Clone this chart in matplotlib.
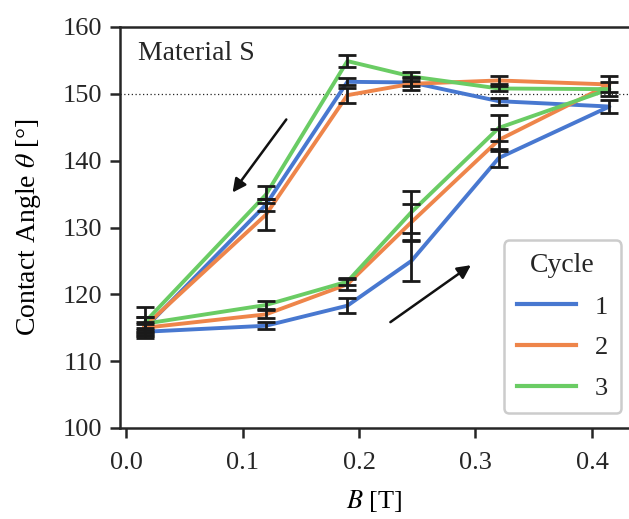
import matplotlib
matplotlib.use("Agg")
import matplotlib.pyplot as plt

# field sweep: up to 0.415 T and back down again
B = [0.016, 0.12, 0.19, 0.245, 0.32, 0.415, 0.32, 0.245, 0.19, 0.12, 0.016]

angle_c1 = [114.4, 115.3, 118.3, 125.0, 140.4, 148.1, 148.9, 151.7, 151.8, 133.4, 114.9]
angle_c2 = [115.0, 117.0, 121.5, 130.8, 143.1, 151.4, 152.0, 151.5, 149.8, 131.9, 115.2]
angle_c3 = [115.6, 118.4, 121.9, 132.3, 144.9, 150.7, 150.8, 152.6, 154.9, 134.9, 115.8]

err_c1 = [0.5, 0.5, 1.1, 3.0, 1.3, 1.0, 0.5, 0.6, 0.5, 0.9, 0.6]
err_c2 = [0.8, 0.6, 0.8, 2.7, 1.7, 1.2, 0.6, 1.0, 1.1, 2.3, 1.4]
err_c3 = [1.0, 0.6, 0.5, 3.1, 2.0, 1.0, 0.4, 0.7, 0.9, 1.3, 2.3]

cycles = ["1", "2", "3"]
colors = ["#4878d0", "#ee854a", "#6acc64"]

plt.rcParams["font.family"] = ["Liberation Serif", "DejaVu Serif"]
plt.rcParams["mathtext.fontset"] = "stix"
plt.rcParams["font.size"] = 19
plt.rcParams["axes.edgecolor"] = "#262626"
plt.rcParams["text.color"] = "#262626"
plt.rcParams["xtick.color"] = "#262626"
plt.rcParams["ytick.color"] = "#262626"

fig = plt.figure(figsize=(6.29, 5.19), dpi=100)
ax = fig.add_axes([120 / 629, 1 - 428 / 519, 1 - 120 / 629, (428 - 27) / 519])

for angles, errs, name, c in zip([angle_c1, angle_c2, angle_c3],
                                 [err_c1, err_c2, err_c3], cycles, colors):
    ax.plot(B, angles, color=c, lw=2.8, label=name, zorder=2)
for angles, errs in zip([angle_c1, angle_c2, angle_c3], [err_c1, err_c2, err_c3]):
    ax.errorbar(B, angles, yerr=errs, fmt="none", ecolor="#1a1a1a",
                elinewidth=2.0, capsize=6.3, capthick=2.0, zorder=3)

ax.axhline(150, color="#262626", lw=0.9, ls=(0, (1, 2)), zorder=1)

ax.annotate("", xy=(0.090, 134.9), xytext=(0.139, 146.5),
            arrowprops=dict(arrowstyle="-|>", color="#111111", lw=1.8,
                            mutation_scale=20))
ax.annotate("", xy=(0.298, 124.6), xytext=(0.225, 115.6),
            arrowprops=dict(arrowstyle="-|>", color="#111111", lw=1.8,
                            mutation_scale=20))

ax.text(0.035, 0.965, "Material S", transform=ax.transAxes, ha="left", va="top",
        fontsize=20)

ax.set_xlim(-0.0052, 0.4318)
ax.set_ylim(100, 160)
ax.set_xticks([0.0, 0.1, 0.2, 0.3, 0.4])
ax.set_yticks(range(100, 161, 10))
ax.set_xlabel("$B$ [T]", labelpad=10)
ax.set_ylabel(r"Contact Angle $\theta$ [°]", labelpad=14, fontsize=20)
ax.spines["right"].set_visible(False)
for s in ax.spines.values():
    s.set_linewidth(1.8)
ax.tick_params(direction="out", length=7, width=1.8)
ax.tick_params(axis="x", pad=10)
ax.tick_params(axis="y", pad=6)

leg = ax.legend(title="Cycle", loc="lower right", fontsize=19, title_fontsize=20,
                bbox_to_anchor=(621 / 629, 1 - 413 / 519), bbox_transform=fig.transFigure,
                borderaxespad=0, handlelength=2.25, labelspacing=0.65,
                handletextpad=0.7, borderpad=0.5, fancybox=True,
                edgecolor="#cccccc", framealpha=1)
leg.get_frame().set_linewidth(1.8)
leg._legend_box.sep = 12
for line in leg.get_lines():
    line.set_linewidth(3)

fig.savefig("out.png", dpi=100)
